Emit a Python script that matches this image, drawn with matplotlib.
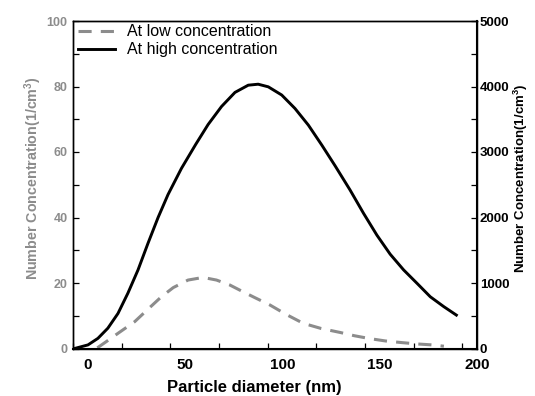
import numpy as np
import matplotlib.pyplot as plt
from matplotlib.ticker import FixedLocator

plt.rcParams['font.family'] = ['Liberation Sans', 'DejaVu Sans']
plt.rcParams['mathtext.fontset'] = 'custom'
plt.rcParams['mathtext.rm'] = 'Liberation Sans'
plt.rcParams['mathtext.bf'] = 'Liberation Sans:bold'

# high concentration curve, read in left-axis units (x50 on right axis)
high_x = [-6.7, 0.2, 5.3, 10.4, 15.6, 20.7, 25.9, 31.0, 36.2, 41.3, 48.2,
          55.5, 61.9, 68.8, 75.7, 82.5, 87.6, 92.8, 99.7, 106.5, 113.4, 120.3,
          127.1, 134.8, 141.7, 148.6, 155.4, 162.3, 169.2, 176.0, 182.9, 189.4]
high_y = [0, 1.1, 3.1, 6.2, 10.7, 16.9, 24.0, 32.1, 40.0, 47.0, 55.0,
          62.3, 68.4, 73.9, 78.2, 80.4, 80.7, 79.9, 77.4, 73.3, 68.2, 62.1,
          55.8, 48.4, 41.3, 34.6, 28.8, 24.0, 19.9, 15.8, 12.8, 10.2]

# low concentration curve (left axis)
low_x = [5, 9.6, 16, 24.2, 31, 37.9, 44, 51.6, 59.3, 66.2, 73, 79.9, 86,
         93.6, 102, 110.7, 120, 129.7, 137, 145.1, 153, 161.4, 169, 176.9, 183]
low_y = [0.2, 2.1, 4.8, 8.2, 12.0, 15.8, 18.6, 20.9, 21.7, 20.9, 19.4, 17.3,
         15.5, 13.3, 10.4, 7.7, 6.1, 4.9, 3.9, 3.0, 2.3, 1.8, 1.4, 1.1, 0.7]

fig = plt.figure(figsize=(5.35, 3.96), dpi=100)
ax = fig.add_axes([73 / 535, 47.5 / 396, 404 / 535, 327.5 / 396])
ax2 = ax.twinx()

gray = '#8c8c8c'
ln_low, = ax.plot(low_x, low_y, color=gray, lw=2.2, dashes=(4.3, 3.0))
ln_high, = ax2.plot(high_x, np.array(high_y) * 50, color='black', lw=2.1)

ax.set_xlim(-7.5, 200)
ax.set_ylim(0, 100)
ax2.set_ylim(0, 5000)

# x axis: labels at 50s, tick marks offset as in the original
ax.set_xticks([0, 50, 100, 150, 200])
ax.xaxis.set_minor_locator(FixedLocator(np.arange(-7.5, 200, 25)))
ax.tick_params(axis='x', which='major', length=0, pad=7, labelsize=11)
ax.tick_params(axis='x', which='minor', direction='in', length=4, width=0.9)
for t in ax.get_xticklabels():
    t.set_fontweight('bold')

ax.set_yticks([0, 20, 40, 60, 80, 100])
ax.yaxis.set_minor_locator(FixedLocator(np.arange(10, 100, 20)))
ax.tick_params(axis='y', which='both', direction='in', length=4, width=0.9,
               labelsize=9, labelcolor=gray, pad=4)
for t in ax.get_yticklabels():
    t.set_fontweight('bold')

ax2.set_yticks([0, 1000, 2000, 3000, 4000, 5000])
ax2.yaxis.set_minor_locator(FixedLocator(np.arange(500, 5000, 1000)))
ax2.tick_params(axis='y', which='both', direction='in', length=4, width=0.9,
                labelsize=9.5, pad=2)
for t in ax2.get_yticklabels():
    t.set_fontweight('bold')

for a in (ax, ax2):
    for s in a.spines.values():
        s.set_linewidth(1.0)
ax2.spines['right'].set_linewidth(1.5)
ax.spines['bottom'].set_linewidth(1.5)

ax.set_xlabel('Particle diameter (nm)', fontsize=12, fontweight='bold')
ax.xaxis.set_label_coords(0.449, -0.097)

ylab = r'Number Concentration$\mathbf{(}$1/cm$^{\mathbf{3}}$$\mathbf{)}$'
ax.set_ylabel(ylab, fontsize=10.3, fontweight='bold', color=gray)
ax.yaxis.set_label_coords(-0.072, 0.52)
ax2.set_ylabel(ylab, fontsize=9.5, fontweight='bold', color='black')
ax2.yaxis.set_label_coords(1.085, 0.52)

ax.legend([ln_low, ln_high], ['At low concentration', 'At high concentration'],
          loc='upper left', frameon=False, fontsize=11.5, handlelength=2.3,
          borderpad=0, borderaxespad=0.3, labelspacing=0.2, handletextpad=0.8,
          bbox_to_anchor=(0.0, 1.005))

fig.savefig('out.png', dpi=100, facecolor='white')
